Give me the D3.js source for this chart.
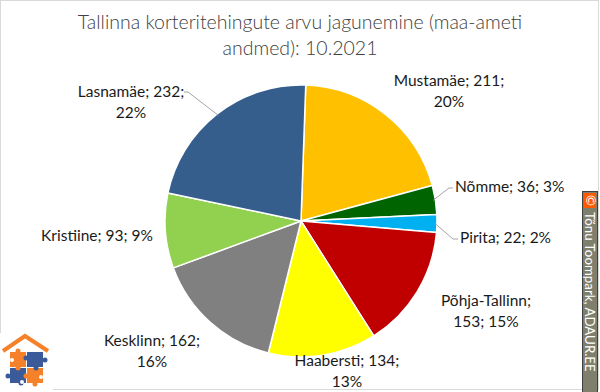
<!DOCTYPE html>
<html><head><meta charset="utf-8">
<script src="https://cdn.jsdelivr.net/npm/d3@7"></script>
<style>
html,body{margin:0;padding:0;background:#fff;}
svg{display:block;}
text{font-family:Lato,"Open Sans",sans-serif;}
</style></head>
<body>
<svg id="c" width="600" height="392"></svg>
<script>
// ---- data ----
const titleLines = ["Tallinna korteritehingute arvu jagunemine (maa-ameti", "andmed): 10.2021"];
const categories = ["Mustamäe", "Nõmme", "Pirita", "Põhja-Tallinn", "Haabersti", "Kesklinn", "Kristiine", "Lasnamäe"];
const values = [211, 36, 22, 153, 134, 162, 93, 232];
const percents = ["20%", "3%", "2%", "15%", "13%", "16%", "9%", "22%"];
const colors = ["#FFC000", "#006400", "#00B0F0", "#C00000", "#FFFF00", "#808080", "#92D050", "#355E8D"];

// ---- layout (label placement, not data) ----
const labelLayout = [
  {lines: i => [categories[i] + "; " + values[i] + ";", percents[i]], x: 449, y: 86, anchor: "middle"},
  {lines: i => [categories[i] + "; " + values[i] + "; " + percents[i]], x: 455, y: 192, anchor: "start", elbow: [449, 188]},
  {lines: i => [categories[i] + "; " + values[i] + "; " + percents[i]], x: 460, y: 243, anchor: "start", elbow: [453, 239]},
  {lines: i => [categories[i] + ";", values[i] + "; " + percents[i]], x: 486, y: 306, anchor: "middle"},
  {lines: i => [categories[i] + "; " + values[i] + ";", percents[i]], x: 347, y: 366, anchor: "middle"},
  {lines: i => [categories[i] + "; " + values[i] + ";", percents[i]], x: 152, y: 346, anchor: "middle"},
  {lines: i => [categories[i] + "; " + values[i] + "; " + percents[i]], x: 97, y: 241, anchor: "middle"},
  {lines: i => [categories[i] + "; " + values[i] + ";", percents[i]], x: 131, y: 97, anchor: "middle", elbow: [188, 92], tail: [184, 92]}
];

const svg = d3.select("#c");
const W = 600, H = 392;
const cx = 301, cy = 221, R = 136;
const startOffset = 2 * Math.PI / 180;

svg.append("rect").attr("x", 0.5).attr("y", 0.5).attr("width", 598).attr("height", 389)
  .attr("fill", "#fff").attr("stroke", "#D9D9D9").attr("stroke-width", 1);

svg.append("g").selectAll("text").data(titleLines).join("text")
  .attr("x", W / 2).attr("y", (d, i) => 29 + i * 26)
  .attr("text-anchor", "middle").attr("font-size", 19.5).attr("font-weight", 300)
  .attr("fill", "#404040").text(d => d);

const pie = d3.pie().sort(null).value(d => d)
  .startAngle(startOffset).endAngle(2 * Math.PI + startOffset);
const arcs = pie(values);
const arc = d3.arc().innerRadius(0).outerRadius(R);
const edge = d3.arc().innerRadius(R - 2).outerRadius(R - 2);

const g = svg.append("g").attr("transform", `translate(${cx},${cy})`);
g.selectAll("path").data(arcs).join("path")
  .attr("d", arc).attr("fill", (d, i) => colors[i])
  .attr("stroke", "#fff").attr("stroke-width", 1.5).attr("stroke-linejoin", "round");

arcs.forEach((d, i) => {
  const L = labelLayout[i];
  if (!L.elbow) return;
  const p = edge.centroid(d);
  const pts = [[cx + p[0], cy + p[1]], L.elbow];
  if (L.tail) pts.push(L.tail);
  else pts.push([L.x - 2, L.elbow[1]]);
  svg.append("path").attr("d", d3.line()(pts))
    .attr("fill", "none").attr("stroke", "#A6A6A6").attr("stroke-width", 1);
});

const lg = svg.append("g");
arcs.forEach((d, i) => {
  const L = labelLayout[i];
  const t = lg.append("text").attr("text-anchor", L.anchor).attr("font-size", 15.5).attr("fill", "#1a1a1a");
  L.lines(i).forEach((s, k) => {
    t.append("tspan").attr("x", L.x).attr("y", L.y + k * 20.5).text(s);
  });
});

// watermark
const wm = svg.append("g");
wm.append("rect").attr("x", 582.5).attr("y", 191.5).attr("width", 15).attr("height", 202)
  .attr("fill", "#7F7F6E").attr("stroke", "#3F3F3F").attr("stroke-width", 1);
wm.append("rect").attr("x", 584).attr("y", 193).attr("width", 12).attr("height", 15).attr("fill", "#FF5A00");
wm.append("text").attr("transform", "translate(585.5,200.5) rotate(90)")
  .attr("text-anchor", "middle").attr("font-size", 13).attr("fill", "#fff")
  .attr("font-family", "'Liberation Sans', Arial, sans-serif").text("©");
wm.append("text").attr("transform", "translate(585,212) rotate(90)")
  .attr("font-size", 13.3).attr("fill", "#fff")
  .attr("font-family", "'Liberation Sans', Arial, sans-serif").text("Tõnu Toompark, ADAUR.EE");

// logo
const logo = svg.append("g");
logo.append("rect").attr("x", 0).attr("y", 333).attr("width", 53).attr("height", 59).attr("fill", "#fff");
logo.append("path").attr("d", "M3,351 L25,336 L48,351").attr("fill", "none")
  .attr("stroke", "#F5822A").attr("stroke-width", 4).attr("stroke-linejoin", "miter");
const orange = "#F5822A", blue = "#3B5A9A";
const pieces = [[10, 352, orange], [27, 352, blue], [10, 368, blue], [27, 368, orange]];
pieces.forEach(p => logo.append("rect").attr("x", p[0]).attr("y", p[1]).attr("width", 16).attr("height", 15).attr("fill", p[2]));
const knobs = [[18, 351, orange], [36, 368, blue], [8, 376, blue], [45, 360, blue], [26, 358, blue], [18, 368, orange], [35, 384, orange], [26, 376, orange], [21, 383, blue]];
knobs.forEach(k => logo.append("circle").attr("cx", k[0]).attr("cy", k[1]).attr("r", 2.5).attr("fill", k[2]));
const holes = [[12, 360], [41, 377], [22, 382]];
holes.forEach(h => logo.append("circle").attr("cx", h[0]).attr("cy", h[1]).attr("r", 2).attr("fill", "#fff"));
</script>
</body></html>
